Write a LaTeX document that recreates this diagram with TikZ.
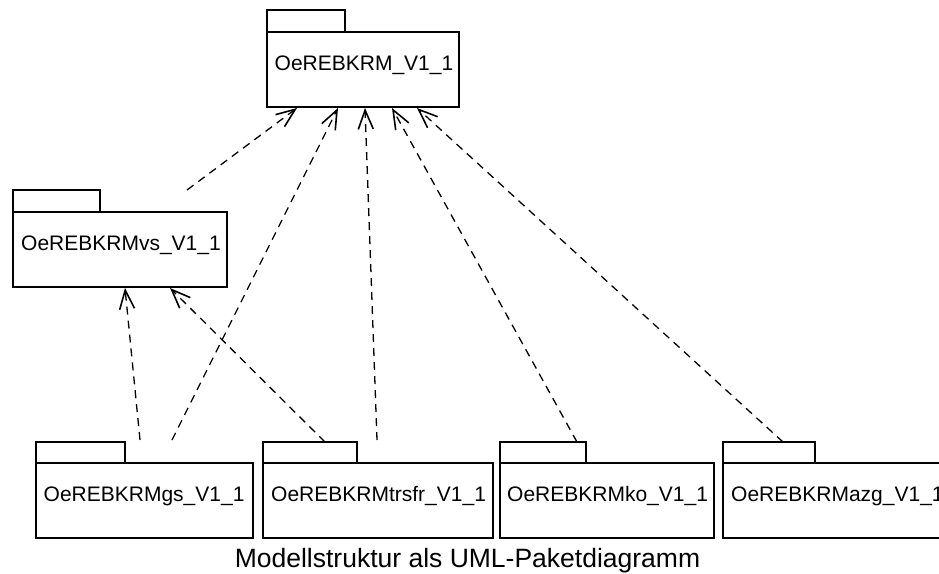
\documentclass[tikz,border=0pt]{standalone}
\usepackage{fontspec}
\setmainfont{Liberation Sans}
\usetikzlibrary{arrows.meta}
\begin{document}
\begin{tikzpicture}[x=1pt,y=-1pt,
  pkgpart/.style={draw, line width=1.3pt, fill=white, inner sep=0pt, outer sep=0pt, anchor=north west},
  pkglabel/.style={anchor=base west, inner sep=0pt, font=\fontsize{21}{25}\selectfont},
  dep/.style={line width=1.3pt, dash pattern=on 8pt off 6pt, -{Straight Barb[length=19pt,width=15pt,line width=1.6pt]}}]
\clip (0,0) rectangle (939,573);
\useasboundingbox (0,0) rectangle (939,573);
% top package
\node[pkgpart, minimum width=78pt, minimum height=22pt] (topT) at (267,10) {};
\node[pkgpart, minimum width=192pt, minimum height=75pt] (topB) at (267,32) {};
\node[pkglabel] (topL) at (274.5,70.5) {OeREBKRM\_V1\_1};
% vs package
\node[pkgpart, minimum width=87pt, minimum height=22pt] (vsT) at (13,190) {};
\node[pkgpart, minimum width=214pt, minimum height=75pt] (vsB) at (13,212) {};
\node[pkglabel] (vsL) at (21,250) {OeREBKRMvs\_V1\_1};
% gs package
\node[pkgpart, minimum width=89pt, minimum height=21pt] (gsT) at (36,442) {};
\node[pkgpart, minimum width=217pt, minimum height=75pt] (gsB) at (36,463) {};
\node[pkglabel] (gsL) at (43.5,501.5) {OeREBKRMgs\_V1\_1};
% trsfr package
\node[pkgpart, minimum width=94pt, minimum height=21pt] (trT) at (263,442) {};
\node[pkgpart, minimum width=230pt, minimum height=75pt] (trB) at (263,463) {};
\node[pkglabel] (trL) at (271,501.5) {OeREBKRMtrsfr\_V1\_1};
% ko package
\node[pkgpart, minimum width=86pt, minimum height=21pt] (koT) at (500,442) {};
\node[pkgpart, minimum width=214pt, minimum height=75pt] (koB) at (500,463) {};
\node[pkglabel] (koL) at (507,501.5) {OeREBKRMko\_V1\_1};
% azg package
\node[pkgpart, minimum width=92pt, minimum height=21pt] (azT) at (723,442) {};
\node[pkgpart, minimum width=240pt, minimum height=75pt] (azB) at (723,463) {};
\node[pkglabel] (azL) at (731,501.5) {OeREBKRMazg\_V1\_1};
% caption
\node[anchor=base, inner sep=0pt, font=\fontsize{26.5}{30}\selectfont] (cap) at (467.5,567) {Modellstruktur als UML-Paketdiagramm};
% connector points
\coordinate (vsS) at (187,190);
\coordinate (gsS1) at (140,440);
\coordinate (gsS2) at (172,440);
\coordinate (trS1) at (325,442);
\coordinate (trS2) at (377,440);
\coordinate (koS) at (577,442);
\coordinate (azS) at (783,442);
\coordinate (topE1) at (297,108);
\coordinate (topE2) at (338,108);
\coordinate (topE3) at (365,108);
\coordinate (topE4) at (392,108);
\coordinate (topE5) at (417,108);
\coordinate (vsE1) at (125,288);
\coordinate (vsE2) at (170,288);
% dependencies
\draw[dep] (vsS) -- (topE1);
\draw[dep] (gsS2) -- (topE2);
\draw[dep] (trS2) -- (topE3);
\draw[dep] (koS) -- (topE4);
\draw[dep] (azS) -- (topE5);
\draw[dep] (gsS1) -- (vsE1);
\draw[dep] (trS1) -- (vsE2);
\end{tikzpicture}
\end{document}
